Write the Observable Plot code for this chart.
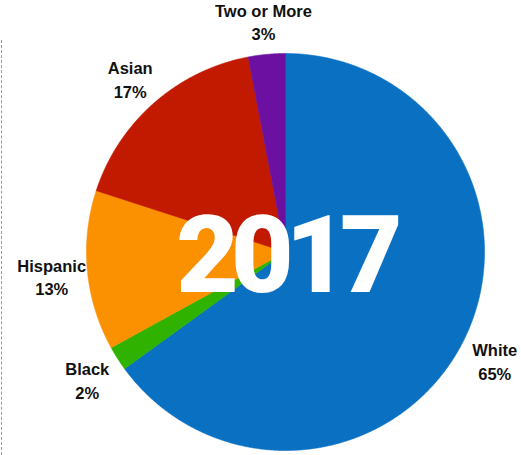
<!DOCTYPE html>
<html>
<head>
<meta charset="utf-8">
<script src="https://cdn.jsdelivr.net/npm/d3@7"></script>
<script src="https://cdn.jsdelivr.net/npm/@observablehq/plot@0.6"></script>
<style>
  html, body { margin: 0; padding: 0; background: #fff; }
  #wrap { position: relative; width: 521px; height: 455px; overflow: hidden; }
  #dash { position: absolute; left: 1px; top: 40px; height: 415px; border-left: 1px dashed #9a9a9a; }
</style>
</head>
<body>
<div id="wrap"><div id="dash"></div><div id="chart"></div></div>
<script>
const categories = ["White", "Black", "Hispanic", "Asian", "Two or More"];
const shares = [65, 2, 13, 17, 3];
const colors = ["#0a70c2", "#2fb300", "#fb9100", "#c21a00", "#6b10a0"];
const year = "2017";

const data = categories.map((c, i) => ({cat: c, share: shares[i]}));
const arcs = d3.pie().sort(null).value(d => d.share)(data);

// polygon outline of each slice, derived from the pie angles
const slicePts = arcs.flatMap(a => {
  const n = Math.max(4, Math.ceil((a.endAngle - a.startAngle) / 0.005));
  const pts = [{cat: a.data.cat, x: 0, y: 0}];
  for (let k = 0; k <= n; k++) {
    const t = a.startAngle + (a.endAngle - a.startAngle) * k / n;
    pts.push({cat: a.data.cat, x: Math.sin(t), y: Math.cos(t)});
  }
  pts.push({cat: a.data.cat, x: 0, y: 0});
  return pts;
});

const labelR = 1.18;
const labels = arcs.map(a => {
  const m = (a.startAngle + a.endAngle) / 2;
  return {text: `${a.data.cat}\n${a.data.share}%`, x: labelR * Math.sin(m), y: labelR * Math.cos(m)};
});

const chart = Plot.plot({
  width: 521,
  height: 455,
  marginLeft: 86,
  marginRight: 37,
  marginTop: 53,
  marginBottom: 5,
  x: {domain: [-1, 1], axis: null},
  y: {domain: [-1, 1], axis: null},
  color: {domain: categories, range: colors},
  style: {background: "#fff", fontFamily: "Liberation Sans, Arial, sans-serif", overflow: "visible"},
  marks: [
    Plot.line(slicePts, {x: "x", y: "y", z: "cat", fill: "cat", stroke: "cat", strokeWidth: 0.6, curve: "linear"}),
    Plot.text(labels, {x: "x", y: "y", text: "text", dy: 2, fontSize: 16.5, fontWeight: "bold", fill: "#111", lineHeight: 1.42}),
    Plot.text([year], {x: () => 0, y: () => 0, text: d => d, dy: 5, dx: 0, fontSize: 108, fontWeight: 900, fontFamily: "Roboto, sans-serif", fill: "#fff", ariaLabel: "year"})
  ]
});
d3.select(chart).selectAll("text").filter(function() { return this.textContent === year; })
  .style("letter-spacing", "-8px").attr("text-anchor", "middle");
document.getElementById("chart").appendChild(chart);
</script>
</body>
</html>
